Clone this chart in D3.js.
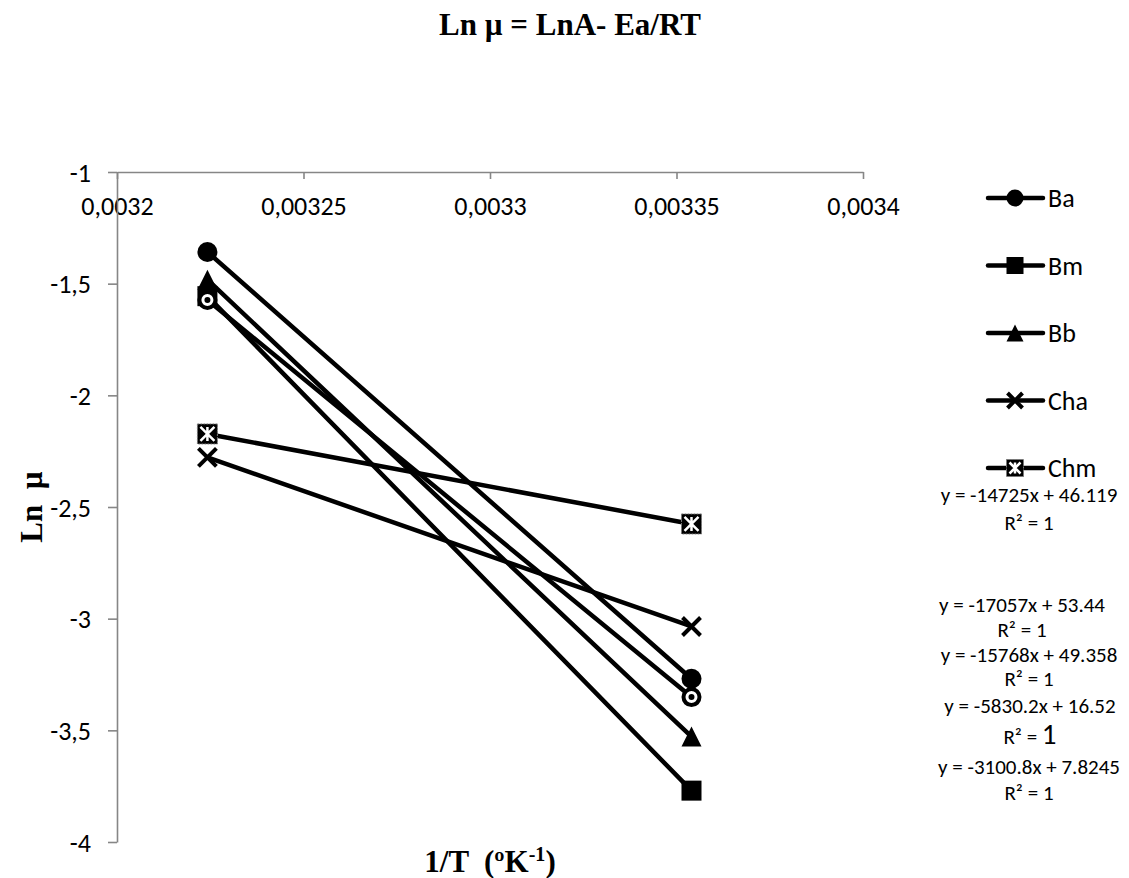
<!DOCTYPE html>
<html>
<head>
<meta charset="utf-8">
<script src="https://cdnjs.cloudflare.com/ajax/libs/d3/7.8.5/d3.min.js"></script>
<style>
  body { margin: 0; background: #fff; }
  text { white-space: pre; }
</style>
</head>
<body>
<div class="canvas"></div>
<script>
// 1/T values (310.15 K and 298.15 K)
const xVals = [0.00322424, 0.00335402];

const seriesNames = ['Ba', 'Bm', 'Bb', 'Cha', 'Chm', ''];
const baVals  = [-1.358, -3.269];
const bmVals  = [-1.556, -3.770];
const bbVals  = [-1.482, -3.528];
const chaVals = [-2.278, -3.035];
const chmVals = [-2.173, -2.576];
const extraVals = [-1.573, -3.351];   // open circle series, not in legend

const xTicks = [0.0032, 0.00325, 0.0033, 0.00335, 0.0034];
const yTicks = [-1, -1.5, -2, -2.5, -3, -3.5, -4];

const equations = [
  'y = -14725x + 46.119',
  'y = -17057x + 53.44',
  'y = -15768x + 49.358',
  'y = -5830.2x + 16.52',
  'y = -3100.8x + 7.8245'
];

const dims = { width: 1129, height: 878 };
const plot = { left: 117, right: 863, top: 172, bottom: 842 };
const axisColour = '#868686';
const calibri = 'Carlito, Lato, sans-serif';
const serif = '"Liberation Serif", "Times New Roman", serif';

const svg = d3.select('.canvas')
  .append('svg')
  .attr('width', dims.width)
  .attr('height', dims.height);

const x = d3.scaleLinear().domain([0.0032, 0.0034]).range([plot.left, plot.right]);
const y = d3.scaleLinear().domain([-1, -4]).range([plot.top, plot.bottom]);

const comma = d => String(+d.toFixed(5)).replace('.', ',');

// x axis sits on top (crosses at y = -1)
const xAxis = svg.append('g')
  .attr('transform', `translate(0, ${plot.top})`)
  .call(d3.axisBottom(x).tickValues(xTicks).tickSize(7).tickSizeOuter(0).tickFormat(comma));

const yAxis = svg.append('g')
  .attr('transform', `translate(${plot.left}, 0)`)
  .call(d3.axisLeft(y).tickValues(yTicks).tickSize(9).tickSizeOuter(0).tickFormat(comma));

[xAxis, yAxis].forEach(ax => {
  ax.select('.domain').attr('stroke', axisColour).attr('stroke-width', 1.6);
  ax.selectAll('.tick line').attr('stroke', axisColour).attr('stroke-width', 1.6);
  ax.selectAll('.tick text')
    .attr('fill', '#000')
    .style('font-family', calibri)
    .style('font-size', '26px');
});
xAxis.selectAll('.tick text').attr('dy', null).attr('y', 43);
yAxis.selectAll('.tick text').attr('x', -26).attr('dy', '0.35em');

// series
const series = [
  { name: 'Ba',  vals: baVals,  marker: 'circle' },
  { name: 'Bm',  vals: bmVals,  marker: 'square' },
  { name: 'Bb',  vals: bbVals,  marker: 'triangle' },
  { name: 'Cha', vals: chaVals, marker: 'times' },
  { name: 'Chm', vals: chmVals, marker: 'star' },
  { name: '',    vals: extraVals, marker: 'ring' }
];

const line = d3.line().x(d => x(d[0])).y(d => y(d[1]));

const drawMarker = (g, type, s) => {
  const h = s / 2;
  if (type === 'circle') {
    g.append('circle').attr('r', h).attr('fill', '#000');
  } else if (type === 'square') {
    g.append('rect').attr('x', -h).attr('y', -h).attr('width', s).attr('height', s).attr('fill', '#000');
  } else if (type === 'triangle') {
    g.append('path').attr('d', `M0,${-h} L${h},${h} L${-h},${h} Z`).attr('fill', '#000');
  } else if (type === 'times') {
    g.append('path').attr('d', `M${-h + 1},${-h + 1} L${h - 1},${h - 1} M${h - 1},${-h + 1} L${-h + 1},${h - 1}`)
      .attr('stroke', '#000').attr('stroke-width', 4);
  } else if (type === 'star') {
    g.append('rect').attr('x', -h).attr('y', -h).attr('width', s).attr('height', s)
      .attr('fill', '#000').attr('stroke', '#777').attr('stroke-width', 1).attr('stroke-dasharray', '2,1');
    const i = h - 3;
    g.append('path').attr('d', `M${-i},${-i} L${i},${i} M${i},${-i} L${-i},${i} M0,${-i} L0,${i}`)
      .attr('stroke', '#fff').attr('stroke-width', 2.5);
  } else if (type === 'ring') {
    g.append('circle').attr('r', h - 2).attr('fill', '#fff').attr('stroke', '#000').attr('stroke-width', 4);
    g.append('circle').attr('r', 3).attr('fill', '#000');
  }
};

const graph = svg.append('g');

series.forEach(s => {
  const pts = xVals.map((xv, i) => [xv, s.vals[i]]);
  graph.append('path')
    .attr('d', line(pts))
    .attr('fill', 'none')
    .attr('stroke', '#000')
    .attr('stroke-width', 4.5)
    .attr('stroke-linecap', 'round');
});

series.forEach(s => {
  xVals.forEach((xv, i) => {
    const g = graph.append('g').attr('transform', `translate(${x(xv)}, ${y(s.vals[i])})`);
    drawMarker(g, s.marker, 20);
  });
});

// legend
const legend = svg.selectAll('.legend')
  .data(series.filter(s => s.name !== ''))
  .enter()
  .append('g')
  .attr('class', 'legend')
  .attr('transform', (d, i) => `translate(1015, ${198 + i * 67.5})`);

legend.append('line')
  .attr('x1', -27).attr('x2', 28)
  .attr('stroke', '#000').attr('stroke-width', 4.5).attr('stroke-linecap', 'round');

legend.each(function(d) { drawMarker(d3.select(this), d.marker, 17); });

legend.append('text')
  .attr('x', 33)
  .attr('dy', '0.35em')
  .style('font-family', calibri)
  .style('font-size', '26px')
  .text(d => d.name);

// trendline labels
const eqPos = [
  { cx: 1029, ey: 495, ry: 523 },
  { cx: 1022, ey: 605, ry: 630 },
  { cx: 1029, ey: 655, ry: 679 },
  { cx: 1030, ey: 706, ry: 737, big: true },
  { cx: 1029, ey: 767, ry: 793 }
];

equations.forEach((eq, i) => {
  const p = eqPos[i];
  svg.append('text')
    .attr('x', p.cx).attr('y', p.ey).attr('dy', '0.35em')
    .attr('text-anchor', 'middle')
    .style('font-family', calibri).style('font-size', '21px')
    .text(eq);
  const r = svg.append('text')
    .attr('x', p.cx).attr('y', p.ry).attr('dy', '0.35em')
    .attr('text-anchor', 'middle')
    .style('font-family', calibri).style('font-size', '21px');
  r.append('tspan').text('R² = ');
  r.append('tspan').style('font-size', p.big ? '29px' : '21px').text('1');
});

// titles
svg.append('text')
  .attr('x', 570).attr('y', 35)
  .attr('text-anchor', 'middle')
  .style('font-family', serif).style('font-weight', 'bold').style('font-size', '31px')
  .text('Ln µ = LnA- Ea/RT');

svg.append('text')
  .attr('transform', `translate(42, ${(plot.top + plot.bottom) / 2}) rotate(-90)`)
  .attr('text-anchor', 'middle')
  .style('font-family', serif).style('font-weight', 'bold').style('font-size', '31px')
  .text('Ln  µ');

const xt = svg.append('text')
  .attr('x', (plot.left + plot.right) / 2).attr('y', 872)
  .attr('text-anchor', 'middle')
  .style('font-family', serif).style('font-weight', 'bold').style('font-size', '31px');
xt.append('tspan').text('1/T  (ºK');
xt.append('tspan').attr('dy', -11).style('font-size', '20px').text('-1');
xt.append('tspan').attr('dy', 11).text(')');
</script>
</body>
</html>
